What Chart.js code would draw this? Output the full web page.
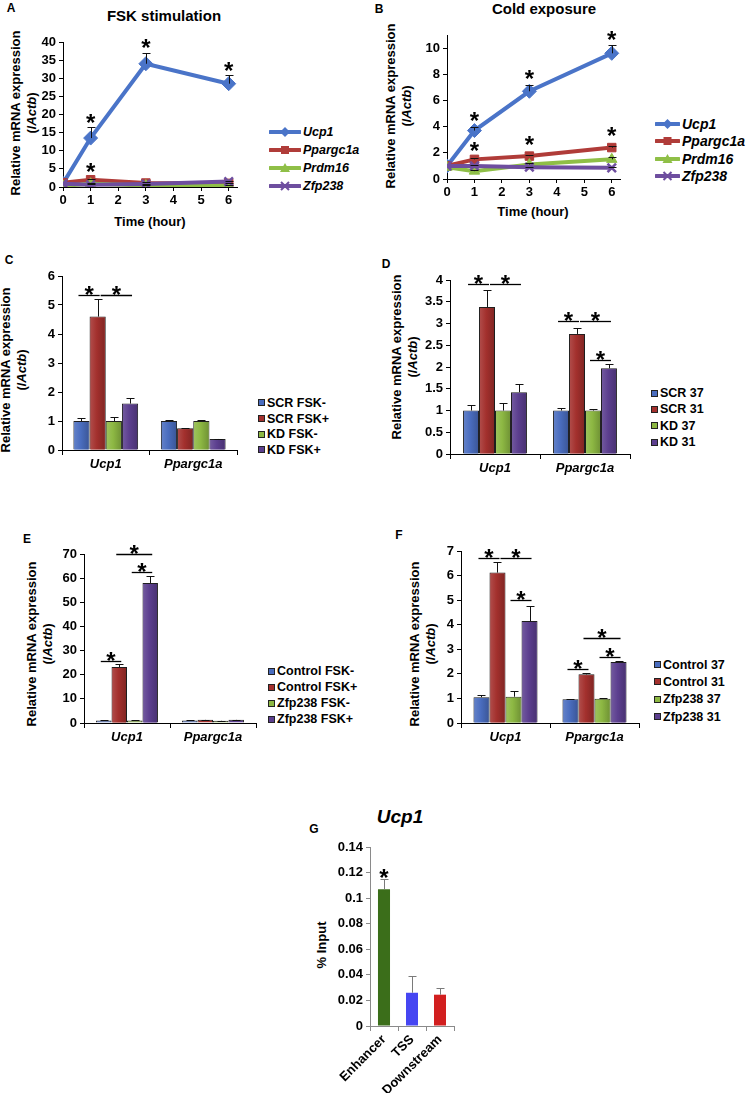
<!DOCTYPE html>
<html>
<head>
<meta charset="utf-8">
<script src="https://cdn.jsdelivr.net/npm/chart.js@4.4.1/dist/chart.umd.min.js"></script>
<style>
  body { margin: 0; background: #fff; }
  #page { position: relative; width: 747px; height: 1093px; overflow: hidden;
          font-family: 'Liberation Sans', Arial, sans-serif; color: #000; }
  .txt { position: absolute; white-space: nowrap; transform: translate(-50%, -50%); font-weight: bold; }
  .letter { font-size: 12px; }
  .title { font-size: 15px; }
  .ytitle { position: absolute; white-space: nowrap; font-weight: bold; font-size: 13px;
            line-height: 16px; text-align: center; transform: translate(-50%, -50%) rotate(-90deg); }
  .leg { position: absolute; font-weight: bold; }
  .row { display: flex; align-items: center; height: 16px; }
  .sw { width: 5px; height: 5px; border: 1px solid #222; margin-right: 2px; }
</style>
</head>
<body>
<div id="page"></div>
<script>
// Panel A / B: time course (line charts)
const timeHours = [0, 1, 3, 6];
const timeTicks = [0, 1, 2, 3, 4, 5, 6];
const geneNames = ['Ucp1', 'Ppargc1a', 'Prdm16', 'Zfp238'];

const fskValues = [
  [1, 13.5, 34, 28.5],
  [1.2, 2.0, 1.1, 1.0],
  [0.3, 0.9, 0.4, 0.4],
  [0.9, 0.6, 0.8, 1.5]
];
const fskErrors = [
  [0, 3.0, 3.0, 2.3],
  [0, 0.3, 0.2, 0.2],
  [0, 0.1, 0.1, 0.1],
  [0, 0.1, 0.1, 0.2]
];
const fskYTicks = [0, 5, 10, 15, 20, 25, 30, 35, 40];
const fskStars = [[1, 19], [3, 39.7], [6, 33.5], [1, 5.5]];

const coldValues = [
  [1, 3.7, 6.7, 9.6],
  [1, 1.5, 1.75, 2.4],
  [0.9, 0.6, 1.1, 1.5],
  [1, 1.0, 0.9, 0.85]
];
const coldErrors = [
  [0, 0.3, 0.5, 0.6],
  [0, 0.1, 0.1, 0.15],
  [0, 0.05, 0.1, 0.2],
  [0, 0.05, 0.05, 0.05]
];
const coldYTicks = [0, 2, 4, 6, 8, 10];
const coldStars = [[1, 4.8], [3, 8.0], [6, 11.0], [1, 2.5], [3, 3.0], [6, 3.7]];

// Panels C-F: bar charts
const barGenes = ['Ucp1', 'Ppargc1a'];

const kdFskLabels = ['SCR FSK-', 'SCR FSK+', 'KD FSK-', 'KD FSK+'];
const kdFskValues = [[1.0, 1.0], [4.6, 0.75], [1.0, 1.0], [1.6, 0.38]];
const kdFskErrors = [[0.12, 0.05], [0.6, 0.02], [0.15, 0.03], [0.2, 0.01]];
const kdFskTicks = [0, 1, 2, 3, 4, 5, 6];
const kdFskBrackets = [[0, 0, 1, 5.35], [0, 1, 3, 5.35]];

const kdTempLabels = ['SCR 37', 'SCR 31', 'KD 37', 'KD 31'];
const kdTempValues = [[1.0, 1.0], [3.38, 2.76], [1.0, 1.0], [1.42, 1.97]];
const kdTempErrors = [[0.13, 0.06], [0.38, 0.14], [0.17, 0.04], [0.2, 0.1]];
const kdTempTicks = [0, 0.5, 1, 1.5, 2, 2.5, 3, 3.5, 4];
const kdTempBrackets = [[0, 0, 1, 3.9], [0, 1, 3, 3.9], [1, 0, 1, 3.05], [1, 1, 3, 3.05], [1, 2, 3, 2.15]];

const oeFskLabels = ['Control FSK-', 'Control FSK+', 'Zfp238 FSK-', 'Zfp238 FSK+'];
const oeFskValues = [[1.0, 1.0], [23.2, 1.3], [1.0, 0.9], [58, 1.3]];
const oeFskErrors = [[0.1, 0.1], [1.1, 0.1], [0.1, 0.1], [3.0, 0.1]];
const oeFskTicks = [0, 10, 20, 30, 40, 50, 60, 70];
const oeFskBrackets = [[0, 0, 1, 25.8], [0, 2, 3, 62.5], [0, 1, 3, 70]];

const oeTempLabels = ['Control 37', 'Control 31', 'Zfp238 37', 'Zfp238 31'];
const oeTempValues = [[1.05, 0.97], [6.12, 1.98], [1.07, 0.99], [4.15, 2.48]];
const oeTempErrors = [[0.08, 0.02], [0.45, 0.07], [0.23, 0.02], [0.62, 0.04]];
const oeTempTicks = [0, 1, 2, 3, 4, 5, 6, 7];
const oeTempBrackets = [[0, 0, 1, 6.7], [0, 1, 3, 6.7], [0, 2, 3, 5.0], [1, 0, 1, 2.2], [1, 1, 3, 3.45], [1, 2, 3, 2.7]];

// Panel G: ChIP
const chipRegions = ['Enhancer', 'TSS', 'Downstream'];
const chipValues = [0.107, 0.026, 0.0245];
const chipErrors = [0.008, 0.013, 0.0055];
const chipTicks = [0, 0.02, 0.04, 0.06, 0.08, 0.1, 0.12, 0.14];
const chipStars = [[0, 0.12]];

const lineColors = ['#4a74c8', '#b03c39', '#8fbf47', '#6e4e9f'];
const lineMarkers = ['rectRot', 'rect', 'triangle', 'crossRot'];
const barColors = ['#4a6dbf', '#a3302d', '#8db843', '#5c3f8f'];
const chipColors = ['#3b6e1a', '#4646f2', '#d21f1f'];

const FONT = "'Liberation Sans', Arial, sans-serif";
Chart.defaults.font.family = FONT;
Chart.defaults.color = '#000';
Chart.defaults.animation = false;
Chart.defaults.events = [];

const page = document.getElementById('page');
const YW = 60, PT = 12, PR = 12;

function addText(html, x, y, cls, style) {
  const d = document.createElement('div');
  d.className = cls;
  d.innerHTML = html;
  d.style.left = x + 'px';
  d.style.top = y + 'px';
  if (style) d.style.cssText += style;
  page.appendChild(d);
  return d;
}

function mount(plot, xh) {
  const c = document.createElement('canvas');
  const w = YW + (plot.r - plot.l) + PR;
  const h = PT + (plot.b - plot.t) + xh;
  c.width = w; c.height = h;
  c.style.cssText = `position:absolute;left:${plot.l - YW}px;top:${plot.t - PT}px;width:${w}px;height:${h}px;`;
  page.appendChild(c);
  return c;
}

function mix(hex, amt) {
  const n = parseInt(hex.slice(1), 16);
  const ch = [n >> 16, (n >> 8) & 255, n & 255].map(v =>
    Math.round(amt > 0 ? v + (255 - v) * amt : v * (1 + amt)));
  return `rgb(${ch.join(',')})`;
}

// Excel-style horizontal shading of the bars
const shadePlugin = {
  id: 'barShade',
  afterDatasetsDraw(chart) {
    const ctx = chart.ctx;
    chart.data.datasets.forEach((ds, i) => {
      if (!ds.shade) return;
      chart.getDatasetMeta(i).data.forEach(el => {
        const p = el.getProps(['x', 'y', 'base', 'width'], true);
        const l = p.x - p.width / 2, r = p.x + p.width / 2;
        if (p.base - p.y < 3) return;
        const g = ctx.createLinearGradient(l, 0, r, 0);
        g.addColorStop(0, mix(ds.backgroundColor, 0.15));
        g.addColorStop(0.45, ds.backgroundColor);
        g.addColorStop(1, mix(ds.backgroundColor, -0.22));
        ctx.save();
        ctx.fillStyle = g;
        ctx.fillRect(l + 1, p.y + 1, p.width - 2, p.base - p.y - 1);
        ctx.restore();
      });
    });
  }
};

// upper-only error bars, like the Excel originals
const errorBarPlugin = {
  id: 'errorBars',
  afterDatasetsDraw(chart, args, opts) {
    const ctx = chart.ctx, y = chart.scales.y;
    chart.data.datasets.forEach((ds, i) => {
      if (!ds.errorBars) return;
      chart.getDatasetMeta(i).data.forEach((el, j) => {
        const e = ds.errorBars[j];
        if (!e) return;
        const v = typeof ds.data[j] === 'object' ? ds.data[j].y : ds.data[j];
        const x = Math.round(el.x) + 0.5;
        const top = Math.round(y.getPixelForValue(v + e)) + 0.5;
        const base = y.getPixelForValue(v);
        ctx.save();
        ctx.strokeStyle = opts.color || '#111';
        ctx.lineWidth = 1;
        ctx.beginPath();
        ctx.moveTo(x, base); ctx.lineTo(x, top);
        ctx.moveTo(x - 4, top); ctx.lineTo(x + 4, top);
        ctx.stroke();
        ctx.restore();
      });
    });
  }
};

// significance brackets and asterisks
const sigPlugin = {
  id: 'sigMarks',
  afterDatasetsDraw(chart, args, opts) {
    const ctx = chart.ctx, y = chart.scales.y;
    ctx.save();
    ctx.fillStyle = '#000';
    ctx.strokeStyle = '#000';
    ctx.lineWidth = 1.3;
    ctx.font = `bold 24px ${FONT}`;
    ctx.textAlign = 'center';
    ctx.textBaseline = 'alphabetic';
    const brackets = opts.brackets || [];
    brackets.forEach(([cat, from, to, val]) => {
      const a = chart.getDatasetMeta(from).data[cat];
      const b = chart.getDatasetMeta(to).data[cat];
      const joined = brackets.some(o => o[0] === cat && o[2] === from && o[3] === val);
      const x1 = a.x + (joined ? 3 : -3);
      const x2 = b.x + 2;
      const py = Math.round(y.getPixelForValue(val)) + 0.5;
      ctx.beginPath();
      ctx.moveTo(x1, py); ctx.lineTo(x2, py);
      ctx.stroke();
      ctx.fillText('*', (x1 + x2) / 2, py + 7);
    });
    (opts.stars || []).forEach(([xv, yv]) => {
      let px;
      if (chart.scales.x.type === 'category') px = chart.getDatasetMeta(0).data[xv].x;
      else px = chart.scales.x.getPixelForValue(xv);
      ctx.fillText('*', px, y.getPixelForValue(yv) + 13);
    });
    ctx.restore();
  }
};

function yScale(ticks, max, fontSize, axisColor) {
  return {
    min: 0, max: max,
    afterBuildTicks: s => { s.ticks = ticks.map(v => ({ value: v })); },
    afterFit: s => { s.width = YW; },
    ticks: { font: { size: fontSize, weight: 'bold' }, color: '#000', padding: 3,
             autoSkip: false, callback: v => String(v) },
    grid: { drawOnChartArea: false, tickLength: 4, color: axisColor },
    border: { color: axisColor }
  };
}

function lineChart(plot, values, errors, ticks, yMax, stars) {
  const canvas = mount(plot, 40);
  return new Chart(canvas, {
    type: 'line',
    data: {
      datasets: geneNames.map((g, i) => ({
        label: g,
        data: timeHours.map((t, j) => ({ x: t, y: values[i][j] })),
        errorBars: errors[i],
        borderColor: lineColors[i],
        backgroundColor: lineColors[i],
        borderWidth: 4,
        pointStyle: lineMarkers[i],
        pointRadius: i === 0 ? 7 : 6,
        pointBorderWidth: i === 3 ? 2.5 : 1,
        tension: 0,
        order: 3 - i
      }))
    },
    options: {
      responsive: false,
      devicePixelRatio: 1,
      layout: { padding: { top: PT, right: PR, left: 0, bottom: 0 } },
      plugins: { legend: { display: false }, tooltip: { enabled: false }, sigMarks: { stars: stars } },
      scales: {
        x: {
          type: 'linear', min: 0, max: 6.3,
          afterBuildTicks: s => { s.ticks = timeTicks.map(v => ({ value: v })); },
          afterFit: s => { s.height = 40; },
          ticks: { font: { size: 13, weight: 'bold' }, color: '#000', padding: 2, autoSkip: false },
          grid: { drawOnChartArea: false, tickLength: 4, color: '#000' },
          border: { color: '#000' }
        },
        y: yScale(ticks, yMax, 13, '#000')
      }
    },
    plugins: [errorBarPlugin, sigPlugin]
  });
}

function barChart(plot, labels, values, errors, ticks, yMax, brackets, catPct) {
  const canvas = mount(plot, 40);
  return new Chart(canvas, {
    type: 'bar',
    data: {
      labels: barGenes,
      datasets: labels.map((lab, i) => ({
        label: lab,
        data: values[i],
        errorBars: errors[i],
        shade: true,
        backgroundColor: barColors[i],
        borderColor: '#1e1e1e',
        borderWidth: 1,
        categoryPercentage: catPct,
        barPercentage: 1
      }))
    },
    options: {
      responsive: false,
      devicePixelRatio: 1,
      layout: { padding: { top: PT, right: PR, left: 0, bottom: 0 } },
      plugins: { legend: { display: false }, tooltip: { enabled: false }, sigMarks: { brackets: brackets } },
      scales: {
        x: {
          afterFit: s => { s.height = 40; },
          ticks: { font: { size: 13, weight: 'bold', style: 'italic' }, color: '#000', padding: 2 },
          grid: { offset: true, drawOnChartArea: false, tickLength: 5, color: '#000' },
          border: { color: '#000' }
        },
        y: yScale(ticks, yMax, 13, '#000')
      }
    },
    plugins: [shadePlugin, errorBarPlugin, sigPlugin]
  });
}

function lineLegend(x, y, rowH, size, lineW) {
  const box = addText('', x, y, 'leg', `font-size:${size}px;font-style:italic;`);
  geneNames.forEach((g, i) => {
    const c = lineColors[i];
    let mk = '';
    const m = lineW / 2;
    if (i === 0) mk = `<polygon points="${m},2 ${m + 5},7 ${m},12 ${m - 5},7" fill="${c}"/>`;
    if (i === 1) mk = `<rect x="${m - 4}" y="3" width="8" height="8" fill="${c}"/>`;
    if (i === 2) mk = `<polygon points="${m},2 ${m + 5},11 ${m - 5},11" fill="${c}"/>`;
    if (i === 3) mk = `<path d="M${m - 4} 3 L${m + 4} 11 M${m + 4} 3 L${m - 4} 11" stroke="${c}" stroke-width="2"/>`;
    box.innerHTML += `<div class="row" style="height:${rowH}px"><svg width="${lineW}" height="14" style="margin-right:2px">` +
      `<line x1="1" y1="7" x2="${lineW - 1}" y2="7" stroke="${c}" stroke-width="4" stroke-linecap="round"/>${mk}</svg>${g}</div>`;
  });
}

function barLegend(x, y, rowH, labels) {
  const box = addText('', x, y, 'leg', 'font-size:12.5px;');
  labels.forEach((lab, i) => {
    box.innerHTML += `<div class="row" style="height:${rowH}px"><span class="sw" style="background:${barColors[i]}"></span>${lab}</div>`;
  });
}

const yTitleMrna = 'Relative mRNA expression<br>(/<i>Actb</i>)';

// A
addText('A', 11, 8, 'txt letter');
addText('FSK stimulation', 164, 15, 'txt title');
addText(yTitleMrna, 24, 113, 'ytitle');
addText('Time (hour)', 150, 221, 'txt', 'font-size:13px;');
lineChart({ l: 63, t: 42, r: 237, b: 187 }, fskValues, fskErrors, fskYTicks, 40, fskStars);
lineLegend(269, 123, 18, 12.5, 32);

// B
addText('B', 379, 9, 'txt letter');
addText('Cold exposure', 544, 8, 'txt title');
addText(yTitleMrna, 399, 106, 'ytitle');
addText('Time (hour)', 533, 211, 'txt', 'font-size:13px;');
lineChart({ l: 447, t: 35, r: 620, b: 179 }, coldValues, coldErrors, coldYTicks, 11, coldStars);
lineLegend(655, 115, 17.5, 14, 25);

// C
addText('C', 9, 260, 'txt letter');
addText(yTitleMrna, 14, 370, 'ytitle');
barChart({ l: 62, t: 276, r: 237, b: 450 }, kdFskLabels, kdFskValues, kdFskErrors, kdFskTicks, 6, kdFskBrackets, 0.74);
barLegend(258, 395, 15.7, kdFskLabels);

// D
addText('D', 386, 264, 'txt letter');
addText(yTitleMrna, 405, 357, 'ytitle');
barChart({ l: 450, t: 280, r: 630, b: 454 }, kdTempLabels, kdTempValues, kdTempErrors, kdTempTicks, 4, kdTempBrackets, 0.71);
barLegend(651, 385, 16.3, kdTempLabels);

// E
addText('E', 27, 539, 'txt letter');
addText(yTitleMrna, 40, 644, 'ytitle');
barChart({ l: 84, t: 554, r: 256, b: 723 }, oeFskLabels, oeFskValues, oeFskErrors, oeFskTicks, 70, oeFskBrackets, 0.72);
barLegend(268, 663, 16, oeFskLabels);

// F
addText('F', 399, 535, 'txt letter');
addText(yTitleMrna, 423, 644, 'ytitle');
barChart({ l: 461, t: 551, r: 639, b: 723 }, oeTempLabels, oeTempValues, oeTempErrors, oeTempTicks, 7, oeTempBrackets, 0.72);
barLegend(654, 656, 17.3, oeTempLabels);

// G
addText('G', 314, 829, 'txt letter');
addText('<i>Ucp1</i>', 400, 817, 'txt', 'font-size:19px;');
addText('% Input', 322, 945, 'ytitle');
const chipPlot = { l: 370, t: 847, r: 454, b: 1026 };
new Chart(mount(chipPlot, 80), {
  type: 'bar',
  data: {
    labels: chipRegions,
    datasets: [{
      data: chipValues,
      errorBars: chipErrors,
      backgroundColor: chipColors,
      borderWidth: 0,
      categoryPercentage: 1,
      barPercentage: 0.43
    }]
  },
  options: {
    responsive: false,
    devicePixelRatio: 1,
    layout: { padding: { top: PT, right: PR, left: 0, bottom: 0 } },
    plugins: { legend: { display: false }, tooltip: { enabled: false },
               errorBars: { color: '#7a7a7a' }, sigMarks: { stars: chipStars } },
    scales: {
      x: {
        afterFit: s => { s.height = 80; },
        ticks: { font: { size: 13, weight: 'bold' }, color: '#000', padding: 1,
                 minRotation: 45, maxRotation: 45, autoSkip: false },
        grid: { offset: true, drawOnChartArea: false, tickLength: 5, color: '#8a8a8a' },
        border: { color: '#8a8a8a' }
      },
      y: yScale(chipTicks, 0.14, 13, '#8a8a8a')
    }
  },
  plugins: [errorBarPlugin, sigPlugin]
});
</script>
</body>
</html>
